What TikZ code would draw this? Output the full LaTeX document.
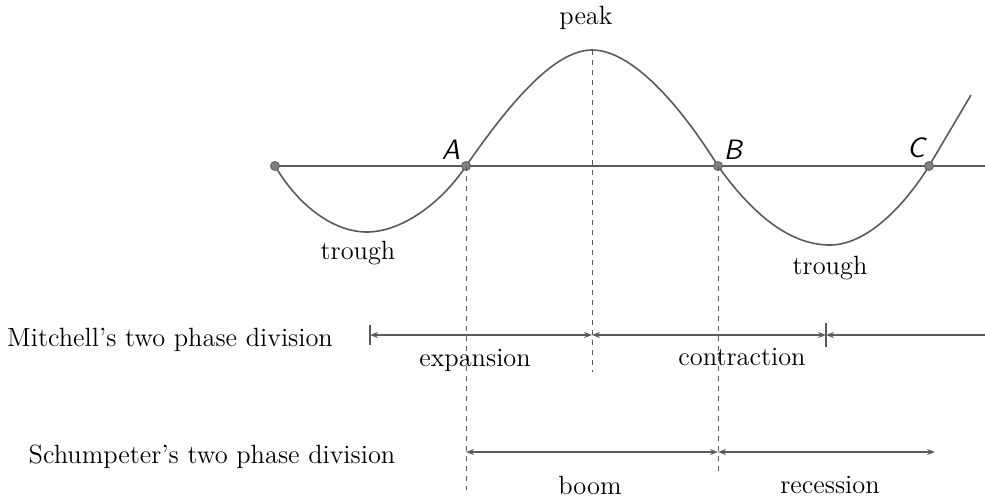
\documentclass[tikz,border=0pt]{standalone}
\usepackage{tikz}
\usetikzlibrary{arrows.meta,calc,positioning}
\definecolor{inkgray}{RGB}{90,90,90}
\colorlet{dotgray}{gray}

\begin{document}
\begin{tikzpicture}[x=0.5pt, y=-0.5pt, font=\fontsize{13.2}{15}\selectfont,
  dot/.style={circle, fill=dotgray, draw=inkgray, inner sep=0pt, minimum size=4.5pt},
  span/.style={inkgray, semithick, {Stealth[length=4pt,width=3pt]}-{Stealth[length=4pt,width=3pt]}},
  guide/.style={inkgray, dash pattern=on 2.5pt off 2.5pt, thin},
  pt/.style={font=\sffamily\itshape\fontsize{14}{16}\selectfont}]
  \useasboundingbox (0,0) rectangle (985,499);
  % crossing points of the trend line
  \coordinate (O) at (275,166);
  \coordinate (A) at (466,166);
  \coordinate (B) at (718,166);
  \coordinate (C) at (929,166);
  \coordinate (peak) at (592,50);
  \coordinate (axisend) at (985,166);
  \draw[inkgray, semithick] (O) -- (axisend);
  % the cycle
  \draw[inkgray, thick] (O) .. controls (300,208) and (335,232) .. (367,232)
    .. controls (400,232) and (440,205) .. (A)
    .. controls (505,110) and (552,50) .. (peak)
    .. controls (632,50) and (680,105) .. (B)
    .. controls (758,222) and (795,245) .. (830,245)
    .. controls (867,245) and (905,205) .. (C) -- (971,95);
  \foreach \p in {O,A,B,C} \node[dot] at (\p) {};
  \node[pt] (lA) at (451,150) {A};
  \node[pt] (lB) at (733,150) {B};
  \node[pt] (lC) at (916,148) {C};
  \node (lpeak) at (586,18) {peak};
  \node (ltr1) at (358,253) {trough};
  \node (ltr2) at (830,268) {trough};
  % guide lines
  \coordinate (Aend) at (466,490);
  \coordinate (Pend) at (592,372);
  \coordinate (Bend) at (718,472);
  \draw[guide] (A) -- (Aend);
  \draw[guide] (peak) -- (Pend);
  \draw[guide] (B) -- (Bend);
  % Mitchell
  \coordinate (m0) at (370,335);
  \coordinate (m1) at (592,335);
  \coordinate (m2) at (826,335);
  \coordinate (m3) at (985,335);
  \draw[inkgray, semithick] ($(m0)+(0,-10)$) -- ($(m0)+(0,10)$);
  \draw[inkgray, semithick] ($(m2)+(0,-12)$) -- ($(m2)+(0,12)$);
  \draw[span] (m0) -- (m1);
  \draw[span] (m1) -- (m2);
  \draw[inkgray, semithick, -{Stealth[length=4pt,width=3pt]}] (m3) -- (m2);
  \node (lmit) at (170,340) {Mitchell's two phase division};
  \node (lexp) at (475,360) {expansion};
  \node (lcon) at (742,357) {contraction};
  % Schumpeter
  \coordinate (s0) at (466,452);
  \coordinate (s1) at (718,452);
  \coordinate (s2) at (935,452);
  \draw[span] (s0) -- (s1);
  \draw[span] (s1) -- (s2);
  \node (lsch) at (212,457) {Schumpeter's two phase division};
  \node (lboom) at (590,485) {boom};
  \node (lrec) at (830,485) {recession};
\end{tikzpicture}
\end{document}
